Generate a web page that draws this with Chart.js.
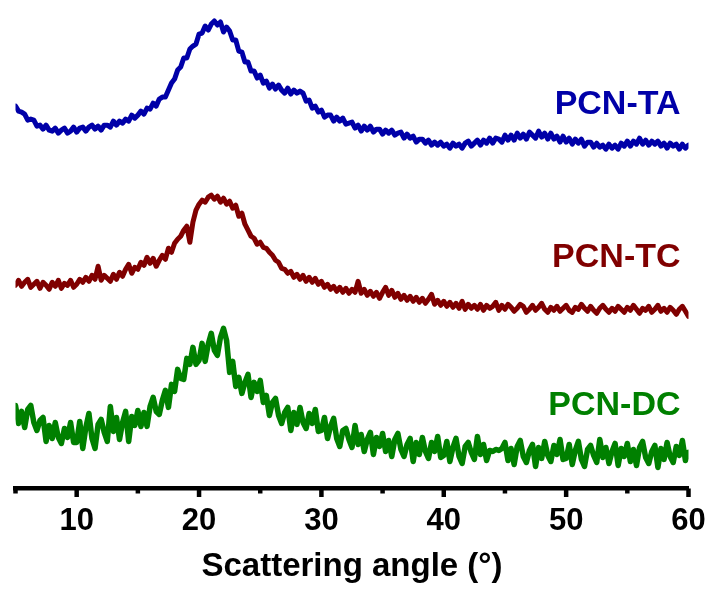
<!DOCTYPE html>
<html>
<head>
<meta charset="utf-8">
<script src="https://cdn.jsdelivr.net/npm/chart.js@4/dist/chart.umd.min.js"></script>
<style>
  html, body { margin: 0; padding: 0; background: #fff; }
  #chart { display: block; }
</style>
</head>
<body>
<canvas id="chart" width="712" height="590"></canvas>
<script>
// sampling grid of the scan (degrees), one value every 0.25
const angleStart = 5;
const angleStep = 0.25;

const seriesNames = ["PCN-TA", "PCN-TC", "PCN-DC"];
const xTickLabels = [10, 20, 30, 40, 50, 60];

// offset intensities (a.u.)
const pcnTA = [
  382, 377, 376, 374, 368, 369, 368, 362, 363, 359, 363, 358, 357, 360, 355, 358, 360, 355, 357, 361,
  356, 360, 361, 357, 361, 363, 359, 362, 358, 363, 363, 361, 367, 363, 367, 365, 369, 367, 373, 370,
  373, 377, 374, 380, 379, 385, 382, 389, 391, 391, 398, 405, 409, 418, 421, 430, 430, 439, 442, 444,
  454, 455, 462, 458, 464, 467, 463, 466, 456, 461, 457, 448, 448, 437, 436, 426, 426, 417, 417, 410,
  413, 405, 407, 400, 404, 399, 403, 398, 395, 400, 394, 398, 395, 397, 395, 387, 388, 380, 382, 376,
  378, 371, 373, 373, 367, 371, 367, 370, 364, 365, 366, 360, 363, 357, 362, 358, 362, 356, 359, 359,
  354, 358, 355, 358, 353, 355, 356, 350, 354, 350, 352, 346, 349, 349, 345, 348, 343, 346, 343, 346,
  342, 344, 340, 345, 342, 344, 340, 345, 347, 342, 345, 348, 343, 348, 345, 350, 345, 350, 349, 346,
  353, 348, 353, 348, 355, 350, 354, 349, 356, 353, 350, 357, 351, 355, 349, 355, 349, 352, 346, 352,
  346, 350, 344, 349, 345, 349, 342, 346, 346, 341, 345, 341, 343, 339, 344, 340, 343, 339, 345, 342,
  347, 342, 347, 344, 350, 344, 348, 343, 347, 344, 347, 342, 345, 340, 345, 342, 344, 339, 344, 340,
  343
];

const pcnTC = [
  203, 208, 202, 206, 209, 201, 204, 207, 200, 206, 203, 199, 206, 202, 208, 200, 205, 203, 208, 201,
  204, 209, 206, 211, 207, 213, 209, 222, 208, 213, 210, 207, 214, 209, 216, 212, 219, 224, 215, 221,
  219, 226, 223, 231, 225, 230, 222, 228, 233, 229, 240, 236, 245, 249, 252, 258, 262, 246, 266, 278,
  284, 288, 286, 291, 293, 289, 292, 286, 290, 284, 287, 280, 283, 272, 275, 264, 258, 252, 250, 244,
  246, 241, 240, 236, 233, 228, 226, 220, 219, 215, 217, 211, 214, 209, 213, 207, 211, 206, 210, 204,
  207, 201, 204, 199, 202, 197, 201, 196, 200, 195, 199, 196, 207, 195, 199, 193, 197, 192, 196, 190,
  196, 201, 193, 198, 191, 195, 189, 193, 188, 192, 187, 191, 186, 190, 185, 189, 194, 184, 188, 183,
  187, 182, 186, 181, 185, 180, 187, 179, 184, 180, 183, 179, 184, 178, 183, 180, 182, 186, 178, 183,
  179, 184, 181, 177, 180, 184, 182, 176, 179, 183, 178, 181, 185, 179, 176, 181, 178, 182, 177, 180,
  183, 178, 176, 181, 179, 184, 180, 177, 182, 178, 175, 180, 183, 179, 176, 180, 177, 182, 179, 176,
  181, 178, 183, 179, 175, 180, 178, 182, 176, 179, 183, 177, 180, 176, 181, 178, 174, 179, 182, 177,
  172
];

const pcnDC = [
  83, 65, 77, 61, 79, 83, 66, 58, 68, 71, 47, 63, 50, 66, 51, 45, 60, 51, 66, 46,
  46, 67, 40, 61, 75, 50, 40, 64, 69, 56, 47, 82, 57, 71, 49, 66, 77, 47, 72, 63,
  78, 62, 76, 62, 82, 91, 77, 74, 88, 98, 81, 104, 97, 119, 110, 109, 130, 124, 141, 124,
  128, 145, 127, 144, 155, 138, 133, 151, 160, 148, 116, 127, 102, 111, 95, 106, 114, 91, 106, 97,
  108, 86, 93, 73, 86, 90, 73, 65, 76, 81, 58, 76, 64, 81, 66, 60, 75, 65, 79, 57,
  58, 71, 50, 62, 70, 50, 42, 58, 60, 49, 41, 63, 44, 54, 37, 49, 56, 34, 51, 42,
  55, 37, 48, 32, 49, 55, 39, 32, 44, 50, 27, 46, 34, 51, 37, 30, 46, 37, 52, 31,
  33, 47, 27, 41, 50, 32, 25, 42, 46, 36, 29, 52, 34, 44, 28, 38, 37, 39, 38, 40,
  46, 28, 40, 24, 42, 48, 32, 26, 38, 44, 22, 41, 30, 47, 33, 27, 43, 34, 49, 29,
  30, 44, 24, 38, 47, 29, 22, 39, 43, 33, 26, 49, 31, 41, 25, 37, 45, 23, 40, 32,
  45, 27, 39, 23, 41, 47, 31, 25, 37, 43, 21, 40, 29, 46, 32, 26, 42, 33, 48, 28,
  36
];

const seriesValues = [pcnTA, pcnTC, pcnDC];
const seriesColors = ["#0000a8", "#800000", "#008000"];
const seriesWidths = [5, 5, 5.5];

const toPoints = (values) =>
  values.map((v, i) => ({ x: angleStart + i * angleStep, y: v }));

const FONT = "'Liberation Sans', Arial, Helvetica, sans-serif";

// minor + major tick marks hanging below the axis line
const tickMarks = {
  id: "tickMarks",
  afterDraw(chart) {
    const { ctx, chartArea } = chart;
    const x = chart.scales.x;
    ctx.save();
    ctx.strokeStyle = "#000";
    ctx.lineWidth = 4.5;
    for (let v = 5; v <= 60; v += 5) {
      const px = x.getPixelForValue(v);
      const len = v % 10 === 0 ? 8.5 : 5;
      ctx.beginPath();
      ctx.moveTo(px, chartArea.bottom);
      ctx.lineTo(px, chartArea.bottom + len);
      ctx.stroke();
    }
    ctx.restore();
  },
};

// sample names written next to each curve
const curveLabels = {
  id: "curveLabels",
  afterDatasetsDraw(chart, args, opts) {
    const { ctx } = chart;
    const x = chart.scales.x;
    const y = chart.scales.y;
    ctx.save();
    ctx.font = "bold 34px " + FONT;
    ctx.textAlign = "right";
    ctx.textBaseline = "middle";
    opts.anchors.forEach((a, i) => {
      ctx.fillStyle = seriesColors[i];
      ctx.fillText(seriesNames[i], x.getPixelForValue(opts.right), y.getPixelForValue(a));
    });
    ctx.restore();
  },
};

const ctx = document.getElementById("chart").getContext("2d");

const myChart = new Chart(ctx, {
  type: "line",
  data: {
    datasets: seriesValues.map((vals, i) => ({
      label: seriesNames[i],
      data: toPoints(vals),
      borderColor: seriesColors[i],
      borderWidth: seriesWidths[i],
      borderJoinStyle: "round",
      borderCapStyle: "round",
      pointRadius: 0,
      tension: 0,
      fill: false,
    })),
  },
  options: {
    responsive: false,
    animation: false,
    layout: { padding: { left: 15.5, right: 23.5, top: 0, bottom: 0 } },
    plugins: {
      legend: { display: false },
      tooltip: { enabled: false },
      curveLabels: { right: 59.35, anchors: [383, 231, 83] },
    },
    scales: {
      x: {
        type: "linear",
        min: 5,
        max: 60,
        afterBuildTicks: (scale) => {
          scale.ticks = xTickLabels.map((v) => ({ value: v }));
        },
        afterFit: (scale) => {
          scale.height = 101.5;
          scale.paddingLeft = 0;
          scale.paddingRight = 0;
        },
        grid: { display: false, drawTicks: false },
        border: { display: true, color: "#000", width: 4.5 },
        ticks: {
          color: "#000",
          font: { family: FONT, size: 31, weight: "bold" },
          padding: 14,
          maxRotation: 0,
          autoSkip: false,
        },
        title: {
          display: true,
          text: "Scattering angle (°)",
          color: "#000",
          font: { family: FONT, size: 33, weight: "bold" },
          padding: { top: 6, bottom: 3 },
        },
      },
      y: {
        display: false,
        min: 0,
        max: 488,
      },
    },
  },
  plugins: [tickMarks, curveLabels],
});
</script>
</body>
</html>
